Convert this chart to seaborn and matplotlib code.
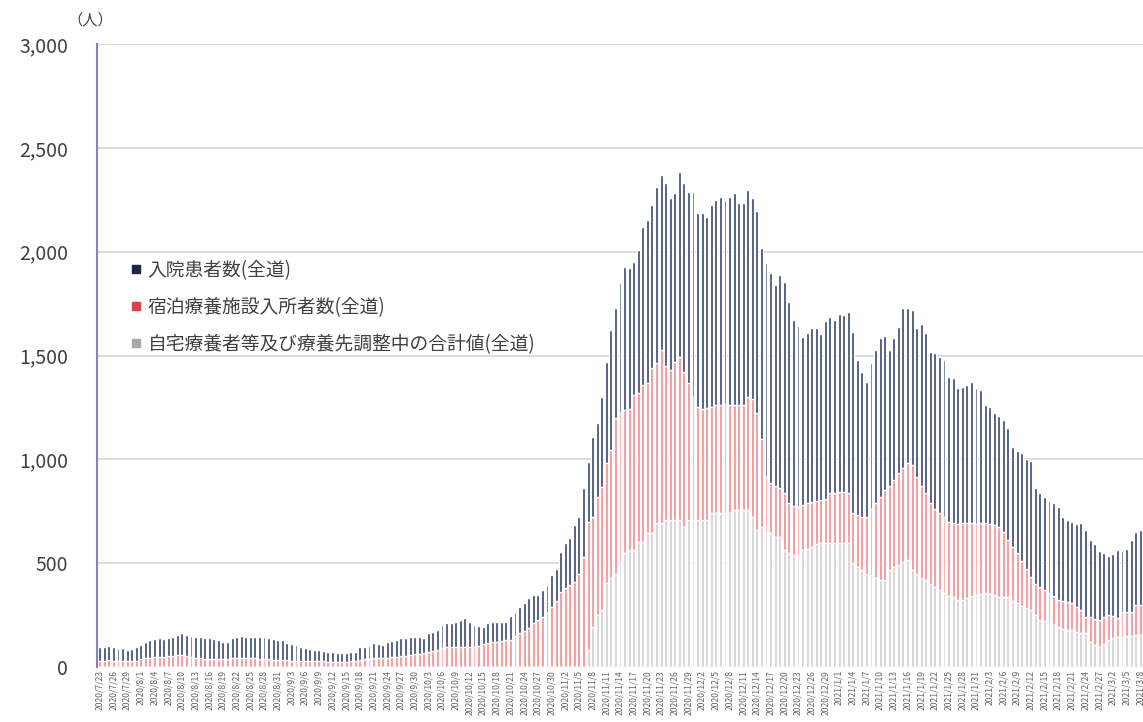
import pandas as pd
import matplotlib
matplotlib.use('Agg')
import matplotlib.pyplot as plt
from matplotlib.lines import Line2D
from matplotlib.ticker import FuncFormatter
import seaborn as sns

# daily values from 2020/7/23
start_date = '2020-07-23'

# 入院患者数 (top, navy)
hospital = [
    65, 67, 68, 67, 65, 62, 55, 58, 65, 66, 77, 83, 85, 88, 86, 86, 91, 97, 104, 99,
    100, 101, 104, 102, 98, 93, 90, 84, 82, 93, 101, 104, 101, 101, 101, 105, 103, 100, 98, 97,
    98, 85, 82, 76, 65, 62, 57, 54, 53, 52, 48, 47, 44, 41, 43, 43, 46, 60, 60, 61,
    69, 65, 64, 77, 78, 80, 86, 85, 83, 81, 80, 72, 92, 95, 98, 112, 115, 116, 122, 129,
    138, 122, 106, 98, 83, 97, 97, 97, 90, 89, 115, 115, 127, 133, 142, 135, 120, 129, 135, 153,
    150, 195, 217, 225, 274, 273, 330, 287, 385, 355, 433, 489, 577, 528, 626, 688, 681, 640, 688, 759,
    785, 785, 850, 843, 880, 828, 812, 892, 910, 922, 989, 934, 946, 923, 973, 988, 1003, 985, 1003, 1020,
    974, 972, 997, 968, 971, 917, 1029, 1012, 969, 1027, 1017, 969, 896, 872, 809, 818, 837, 832, 799, 857,
    849, 831, 857, 852, 871, 873, 748, 699, 651, 704, 736, 764, 742, 656, 684, 704, 768, 746, 744, 717,
    782, 770, 728, 750, 753, 758, 698, 699, 653, 657, 665, 681, 653, 641, 569, 563, 538, 536, 540, 539,
    480, 492, 520, 530, 557, 460, 455, 450, 444, 450, 448, 402, 398, 392, 400, 421, 419, 369, 357, 334,
    308, 285, 300, 329, 295, 305, 345, 352, 362,
]

# 宿泊療養施設入所者数 (middle, pink)
hotel = [
    30, 30, 32, 30, 28, 28, 27, 27, 30, 40, 45, 45, 48, 50, 50, 52, 55, 58, 58, 55,
    50, 45, 42, 40, 40, 40, 38, 38, 40, 45, 45, 45, 45, 42, 42, 40, 40, 38, 35, 35,
    32, 32, 30, 30, 30, 28, 28, 28, 27, 27, 26, 25, 25, 25, 26, 27, 28, 35, 38, 40,
    45, 45, 42, 45, 48, 50, 52, 55, 60, 62, 65, 66, 70, 75, 80, 90, 95, 96, 96, 97,
    98, 96, 96, 100, 110, 115, 118, 120, 125, 128, 130, 150, 163, 175, 190, 212, 225, 241, 260, 290,
    320, 360, 380, 395, 410, 450, 530, 620, 530, 570, 592, 576, 615, 750, 723, 688, 677, 747, 720, 760,
    722, 795, 770, 833, 742, 722, 762, 785, 746, 659, 592, 544, 532, 537, 511, 521, 521, 524, 521, 506,
    504, 506, 544, 567, 563, 426, 271, 240, 244, 234, 275, 240, 235, 240, 217, 220, 215, 210, 207, 213,
    241, 243, 246, 246, 243, 241, 250, 256, 273, 317, 360, 401, 433, 403, 420, 444, 455, 467, 508, 465,
    440, 419, 390, 375, 371, 365, 360, 356, 368, 368, 363, 353, 345, 343, 337, 340, 340, 337, 315, 274,
    260, 240, 215, 185, 159, 150, 159, 150, 144, 140, 129, 133, 132, 130, 120, 110, 77, 121, 128, 130,
    130, 120, 105, 91, 120, 117, 115, 146, 144,
]

# 自宅療養者等及び療養先調整中 (bottom, gray)
home = [0] * 107 + [
    80, 193, 250, 275, 404, 430, 450, 500, 550, 563, 563, 600, 600,
    645, 645, 693, 693, 708, 708, 708, 708, 674, 708, 708, 708, 708, 708, 741, 741, 741, 741, 741, 756,
    756, 756, 756, 723, 660, 674, 645, 645, 626, 626, 563, 550, 540, 530, 563, 570, 580, 590, 597, 597,
    597, 597, 597, 597, 597, 500, 480, 467, 450, 443, 430, 419, 419, 467, 480, 490, 505, 515, 467, 450,
    430, 419, 400, 385, 370, 355, 340, 337, 322, 325, 330, 340, 345, 350, 356, 350, 345, 337, 335, 337,
    320, 308, 295, 285, 274, 250, 226, 220, 212, 200, 193, 185, 180, 178, 170, 164, 164, 120, 105, 96,
    110, 130, 140, 145, 145, 148, 150, 152, 154,
]

legend_labels = ['入院患者数(全道)', '宿泊療養施設入所者数(全道)', '自宅療養者等及び療養先調整中の合計値(全道)']
navy = '#34446e'
pink = '#f48a8e'
gray = '#d0d0d0'

dates = pd.date_range(start_date, periods=len(hospital))
date_labels = [f'{d.year}/{d.month}/{d.day}' for d in dates]

df = pd.DataFrame({'date': date_labels, 'hospital': hospital, 'hotel': hotel, 'home': home})
df['lower'] = df['home']
df['middle'] = df['home'] + df['hotel']
df['total'] = df['middle'] + df['hospital']

sns.set_theme(style='white')
plt.rcParams['font.family'] = ['Noto Sans CJK JP', 'DejaVu Sans']

fig = plt.figure(figsize=(11.43, 7.22), dpi=100)
ax = fig.add_axes([97 / 1143, 55 / 722, 1 - 97 / 1143, 623 / 722])

# stacked bars: draw cumulative heights, tallest first
for col, color in [('total', navy), ('middle', pink), ('lower', gray)]:
    sns.barplot(data=df, x='date', y=col, color=color, saturation=1,
                width=0.64, errorbar=None, ax=ax)

n = len(df)
ax.set_xlim(-0.6, n - 0.4)
ax.set_ylim(0, 3000)
ax.set_yticks(range(0, 3001, 500))
ax.yaxis.set_major_formatter(FuncFormatter(lambda v, p: f'{int(v):,}'))
ax.set_xticks(range(0, n, 3))
ax.set_xticklabels(date_labels[::3], rotation=90, fontsize=6.2, color='#666666')
ax.tick_params(axis='x', length=0, pad=2)
ax.tick_params(axis='y', length=0, pad=21, labelsize=14, labelcolor='#404040')
ax.set_xlabel('')
ax.set_ylabel('')

ax.yaxis.grid(True, color='#d9d9d9', linewidth=1.3)
ax.set_axisbelow(True)
for s in ['top', 'right', 'bottom']:
    ax.spines[s].set_visible(False)
ax.spines['left'].set_color('#8a80c8')
ax.spines['left'].set_linewidth(1.5)

fig.text(90 / 1143, 1 - 20 / 722, '（人）', ha='center', va='center',
         fontsize=11, color='#404040')

handles = [
    Line2D([], [], marker='s', linestyle='', color='#1c2845', markersize=5.5, label=legend_labels[0]),
    Line2D([], [], marker='s', linestyle='', color='#e0404c', markersize=5.5, label=legend_labels[1]),
    Line2D([], [], marker='s', linestyle='', color='#a8a8a8', markersize=5.5, label=legend_labels[2]),
]
ax.legend(handles=handles, loc='upper left', bbox_to_anchor=(128 / 1143, 1 - 260 / 722),
          bbox_transform=fig.transFigure, frameon=False, fontsize=13.5, labelcolor='#404040',
          labelspacing=0.85, handletextpad=0.25, handlelength=0.8, borderpad=0, borderaxespad=0)

fig.savefig('out.png', dpi=100)
